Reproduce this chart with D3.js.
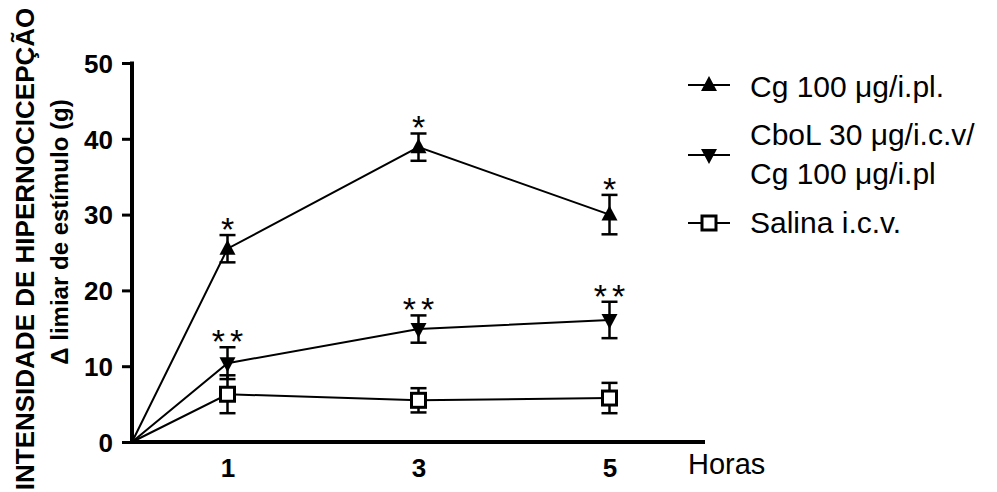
<!DOCTYPE html>
<html>
<head>
<meta charset="utf-8">
<script src="https://cdn.jsdelivr.net/npm/d3@7"></script>
<style>
  html, body { margin: 0; padding: 0; background: #fff; }
  svg { display: block; font-family: "Liberation Sans", Arial, Helvetica, sans-serif; }
</style>
</head>
<body>
<svg id="chart" width="997" height="492"></svg>
<script>
// Time points (hours) and group means with SEM
const hours = [0, 1, 3, 5];
const xTickValues = [1, 3, 5];
const yTickValues = [0, 10, 20, 30, 40, 50];

const cgMean = [0, 25.5, 38.9, 30.0];
const cgSem = [0, 1.8, 1.8, 2.6];
const cgSig = ["", "*", "*", "*"];

const cbolMean = [0, 10.4, 14.9, 16.1];
const cbolSem = [0, 2.1, 1.8, 2.4];
const cbolSig = ["", "**", "**", "**"];

const salinaMean = [0, 6.3, 5.5, 5.8];
const salinaSem = [0, 2.5, 1.6, 2.0];

const seriesNames = ["Cg 100 μg/i.pl.", "CboL 30 μg/i.c.v/\nCg 100 μg/i.pl", "Salina i.c.v."];

const series = [
  { name: seriesNames[0], mean: cgMean, sem: cgSem, sig: cgSig, marker: "up" },
  { name: seriesNames[1], mean: cbolMean, sem: cbolSem, sig: cbolSig, marker: "down" },
  { name: seriesNames[2], mean: salinaMean, sem: salinaSem, sig: null, marker: "square" }
];

const svg = d3.select("#chart");

const x = d3.scaleLinear().domain([0, 6]).range([132, 705]);
const y = d3.scaleLinear().domain([0, 50]).range([442, 63]);

// Marker drawing helper
function drawMarker(g, type, cx, cy) {
  if (type === "up") {
    g.append("path")
      .attr("d", `M${cx},${cy - 9} L${cx + 8},${cy + 6} L${cx - 8},${cy + 6} Z`)
      .attr("fill", "#000");
  } else if (type === "down") {
    g.append("path")
      .attr("d", `M${cx},${cy + 9} L${cx + 8},${cy - 6} L${cx - 8},${cy - 6} Z`)
      .attr("fill", "#000");
  } else {
    g.append("rect")
      .attr("x", cx - 7).attr("y", cy - 7)
      .attr("width", 14).attr("height", 14)
      .attr("fill", "#fff").attr("stroke", "#000").attr("stroke-width", 3);
  }
}

// Axes
const yAxis = d3.axisLeft(y).tickValues(yTickValues).tickSize(10).tickPadding(9);
const yG = svg.append("g").attr("transform", `translate(${x(0)},0)`).call(yAxis);
yG.select(".domain").remove();
yG.selectAll(".tick line").attr("stroke", "#000").attr("stroke-width", 3);
yG.selectAll(".tick text")
  .attr("fill", "#000")
  .style("font-size", "26px")
  .style("font-weight", "bold")
  .attr("dy", "0.36em");

const xAxis = d3.axisBottom(x).tickValues(xTickValues).tickFormat(d3.format("d"))
  .tickSize(0).tickPadding(17);
const xG = svg.append("g").attr("transform", `translate(0,${y(0)})`).call(xAxis);
xG.select(".domain").remove();
xG.selectAll(".tick text")
  .attr("fill", "#000")
  .style("font-size", "26px")
  .style("font-weight", "bold");

// Axis lines
svg.append("line")
  .attr("x1", x(0)).attr("x2", x(0))
  .attr("y1", y(50) - 1.5).attr("y2", y(0) + 2)
  .attr("stroke", "#000").attr("stroke-width", 4);
svg.append("line")
  .attr("x1", x(0) - 2).attr("x2", x(6))
  .attr("y1", y(0)).attr("y2", y(0))
  .attr("stroke", "#000").attr("stroke-width", 4);

// Axis titles
svg.append("text")
  .attr("transform", "translate(34,249) rotate(-90)")
  .attr("text-anchor", "middle")
  .style("font-size", "26px").style("font-weight", "bold")
  .text("INTENSIDADE DE HIPERNOCICEPÇÃO");
svg.append("text")
  .attr("transform", "translate(68,232) rotate(-90)")
  .attr("text-anchor", "middle")
  .style("font-size", "24px").style("font-weight", "bold")
  .text("Δ limiar de estímulo (g)");

svg.append("text")
  .attr("x", 688).attr("y", 474)
  .style("font-size", "29px")
  .text("Horas");

// Series lines, error bars, markers, significance marks
const line = d3.line().x((d, i) => x(hours[i])).y(d => y(d));

series.forEach(s => {
  svg.append("path")
    .attr("d", line(s.mean))
    .attr("fill", "none").attr("stroke", "#000").attr("stroke-width", 2);
});

series.forEach(s => {
  const g = svg.append("g");
  hours.forEach((h, i) => {
    if (h === 0) return;
    const cx = x(h);
    const top = y(s.mean[i] + s.sem[i]);
    const bot = y(s.mean[i] - s.sem[i]);
    g.append("line").attr("x1", cx).attr("x2", cx).attr("y1", top).attr("y2", bot)
      .attr("stroke", "#000").attr("stroke-width", 2.5);
    [top, bot].forEach(yy => {
      g.append("line").attr("x1", cx - 8).attr("x2", cx + 8).attr("y1", yy).attr("y2", yy)
        .attr("stroke", "#000").attr("stroke-width", 2.5);
    });
  });
});

series.forEach(s => {
  const g = svg.append("g");
  hours.forEach((h, i) => {
    if (h === 0) return;
    drawMarker(g, s.marker, x(h), y(s.mean[i]));
    if (s.sig && s.sig[i]) {
      const t = g.append("text")
        .attr("x", x(h)).attr("y", y(s.mean[i] + s.sem[i]) + 6)
        .attr("text-anchor", "middle")
        .style("font-size", "34px")
        .style("letter-spacing", s.sig[i].length > 1 ? "5px" : "0px")
        .text(s.sig[i]);
      if (s.sig[i].length > 1) t.attr("dx", 2.5);
    }
  });
});

// Legend
const legendRows = [
  { marker: "up", my: 85, lines: [seriesNames[0]], ty: [97] },
  { marker: "down", my: 155, lines: seriesNames[1].split("\n"), ty: [145, 184] },
  { marker: "square", my: 223, lines: [seriesNames[2]], ty: [233] }
];
legendRows.forEach(r => {
  const g = svg.append("g");
  g.append("line").attr("x1", 688).attr("x2", 730).attr("y1", r.my).attr("y2", r.my)
    .attr("stroke", "#000").attr("stroke-width", 2);
  drawMarker(g, r.marker, 709, r.my);
  r.lines.forEach((t, k) => {
    g.append("text").attr("x", 750).attr("y", r.ty[k])
      .style("font-size", "30px").text(t);
  });
});
</script>
</body>
</html>
